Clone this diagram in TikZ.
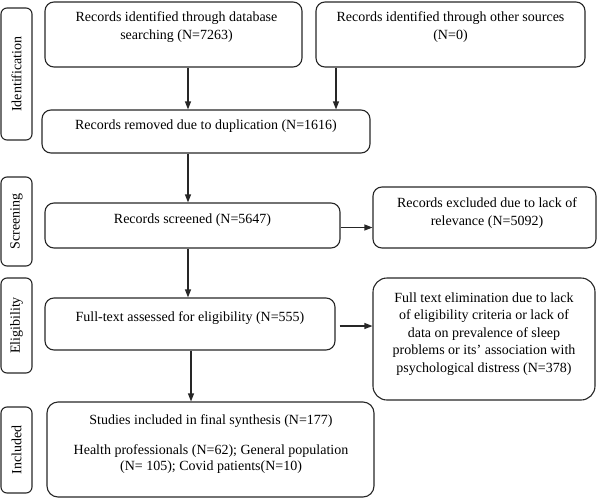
\documentclass[tikz,border=0pt]{standalone}
\usepackage{fontspec}
\setmainfont{Liberation Serif}
\usetikzlibrary{arrows.meta}
\begin{document}
\begin{tikzpicture}[x=1pt,y=-1pt,
  box/.style={draw=black!85,line width=1.1pt,rounded corners=9pt,inner sep=0pt},
  side/.style={draw=black!85,line width=1.1pt,rounded corners=6pt,inner sep=0pt},
  txt/.style={align=center,inner sep=0pt,font=\fontsize{14}{18}\selectfont},
  sidetxt/.style={rotate=90,inner sep=0pt,font=\fontsize{14}{17}\selectfont},
  arr/.style={draw=black!85,line width=1.1pt,-{Triangle[length=8pt,width=6pt]}}]
\useasboundingbox (0,0) rectangle (598,499);
% side labels
\node[side,minimum width=31pt,minimum height=132pt] (sid) at (16.5,74) {};
\node[sidetxt] (tid) at (sid.center) {Identification};
\node[side,minimum width=31pt,minimum height=89pt] (ssc) at (16.5,221.5) {};
\node[sidetxt] (tsc) at (ssc.center) {Screening};
\node[side,minimum width=31pt,minimum height=95pt] (sel) at (16.5,325.5) {};
\node[sidetxt] (tel) at (sel.center) {Eligibility};
\node[side,minimum width=31pt,minimum height=86pt] (sin) at (16.5,450) {};
\node[sidetxt] (tin) at (sin.center) {Included};
% boxes
\node[box,minimum width=257pt,minimum height=65pt] (db) at (173.5,34.5) {};
\node[txt] (tdb) at (176.5,27.5) {Records identified through database\\searching (N=7263)};
\node[box,minimum width=269pt,minimum height=65pt] (oth) at (450.5,34.5) {};
\node[txt] (toth) at (450.5,27) {Records identified through other sources\\(N=0)};
\node[box,minimum width=328pt,minimum height=43pt] (dup) at (206,131.5) {};
\node[txt] (tdup) at (206,126) {Records removed due to duplication (N=1616)};
\node[box,minimum width=295pt,minimum height=45pt] (scr) at (192.5,225.5) {};
\node[txt] (tscr) at (192.5,220) {Records screened (N=5647)};
\node[box,minimum width=223pt,minimum height=61pt] (exc) at (484.5,217.5) {};
\node[txt] (texc) at (487,213) {Records excluded due to lack of\\relevance (N=5092)};
\node[box,minimum width=290pt,minimum height=52pt] (ft) at (190,324) {};
\node[txt] (tft) at (190,318) {Full-text assessed for eligibility (N=555)};
\node[box,rounded corners=14pt,minimum width=222pt,minimum height=122pt] (el) at (484,339) {};
\node[txt,font=\fontsize{14}{17.5}\selectfont] (tel2) at (484,334) {Full text elimination due to lack\\of eligibility criteria or lack of\\data on prevalence of sleep\\problems or its' association with\\psychological distress (N=378)};
\node[box,rounded corners=11pt,minimum width=327pt,minimum height=95pt] (inc) at (210.5,449.5) {};
\node[txt] (tinc1) at (211,421) {Studies included in final synthesis (N=177)};
\node[txt,font=\fontsize{14}{16.5}\selectfont] (tinc2) at (211,459) {Health professionals (N=62); General population\\(N= 105); Covid patients(N=10)};
% arrow columns
\coordinate (xa) at (188,0);
\coordinate (xb) at (336,0);
\coordinate (xc) at (191,0);
\draw[arr] (db.south -| xa) -- (dup.north -| xa);
\draw[arr] (oth.south -| xb) -- (dup.north -| xb);
\draw[arr] (dup.south -| xa) -- (scr.north -| xa);
\draw[arr] ([yshift=-2pt]scr.east) -- ([yshift=-2pt]scr.east -| exc.west);
\draw[arr] (scr.south -| xa) -- (ft.north -| xa);
\draw[arr,shorten <=4pt] ([yshift=-2pt]ft.east) -- ([yshift=-2pt]ft.east -| el.west);
\draw[arr] (ft.south -| xc) -- (inc.north -| xc);
\end{tikzpicture}
\end{document}
